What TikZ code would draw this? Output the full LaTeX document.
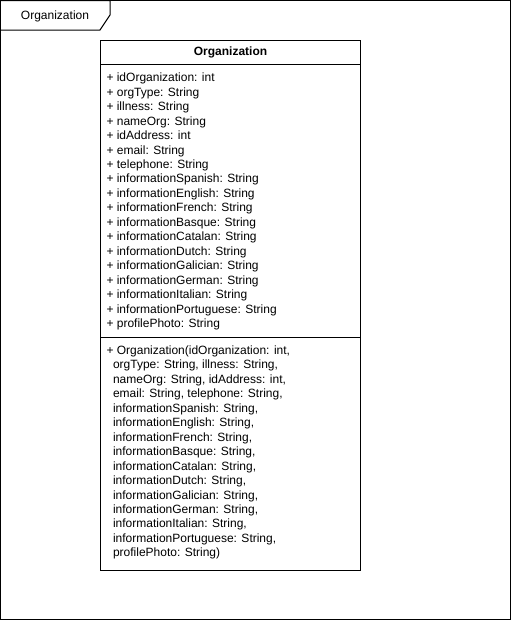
\documentclass[tikz,border=0pt]{standalone}
\usepackage{fontspec}
\setmainfont{Liberation Sans}
\begin{document}
\begin{tikzpicture}[x=1pt,y=-1pt,line width=1pt,
    umltext/.style={inner sep=0pt,anchor=base west,font=\fontsize{12}{14.4}\selectfont},
    umlname/.style={inner sep=0pt,anchor=base,font=\fontsize{12}{14.4}\selectfont\bfseries}]
  \useasboundingbox (0,0) rectangle (511,621);
  % frame and its tab
  \draw (0.5,0.5) rectangle (510,619.5);
  \draw (0.5,0.5) -- (110,0.5) -- (110,15) -- (100,30) -- (0.5,30);
  \node[umltext,anchor=base] (frametitle) at (55,19.5) {Organization};
  % class box
  \draw (100.5,40.5) rectangle (360.5,570.5);
  \draw (100.5,64.5) -- (360.5,64.5);
  \draw (100.5,337) -- (360.5,337);
  \node[umlname] (classname) at (230.5,55.5) {Organization};
  % attributes
  \foreach \txt [count=\i from 0] in {+ idOrganization: int, + orgType: String,
      + illness: String, + nameOrg: String, + idAddress: int, + email: String,
      + telephone: String, + informationSpanish: String, + informationEnglish: String,
      + informationFrench: String, + informationBasque: String,
      + informationCatalan: String, + informationDutch: String,
      + informationGalician: String, + informationGerman: String,
      + informationItalian: String, + informationPortuguese: String,
      + profilePhoto: String}
    \node[umltext] (attr\i) at (106,{81.8+14.45*\i}) {\txt};
  % constructor
  \node[umltext] (method0) at (106,354.5) {+ Organization(idOrganization: int,};
  \foreach \txt [count=\i] in {{orgType: String, illness: String,},
      {nameOrg: String, idAddress: int,}, {email: String, telephone: String,},
      {informationSpanish: String,}, {informationEnglish: String,},
      {informationFrench: String,}, {informationBasque: String,},
      {informationCatalan: String,}, {informationDutch: String,},
      {informationGalician: String,}, {informationGerman: String,},
      {informationItalian: String,}, {informationPortuguese: String,},
      {profilePhoto: String)}}
    \node[umltext] (method\i) at (112.5,{354.5+14.45*\i}) {\txt};
\end{tikzpicture}
\end{document}
